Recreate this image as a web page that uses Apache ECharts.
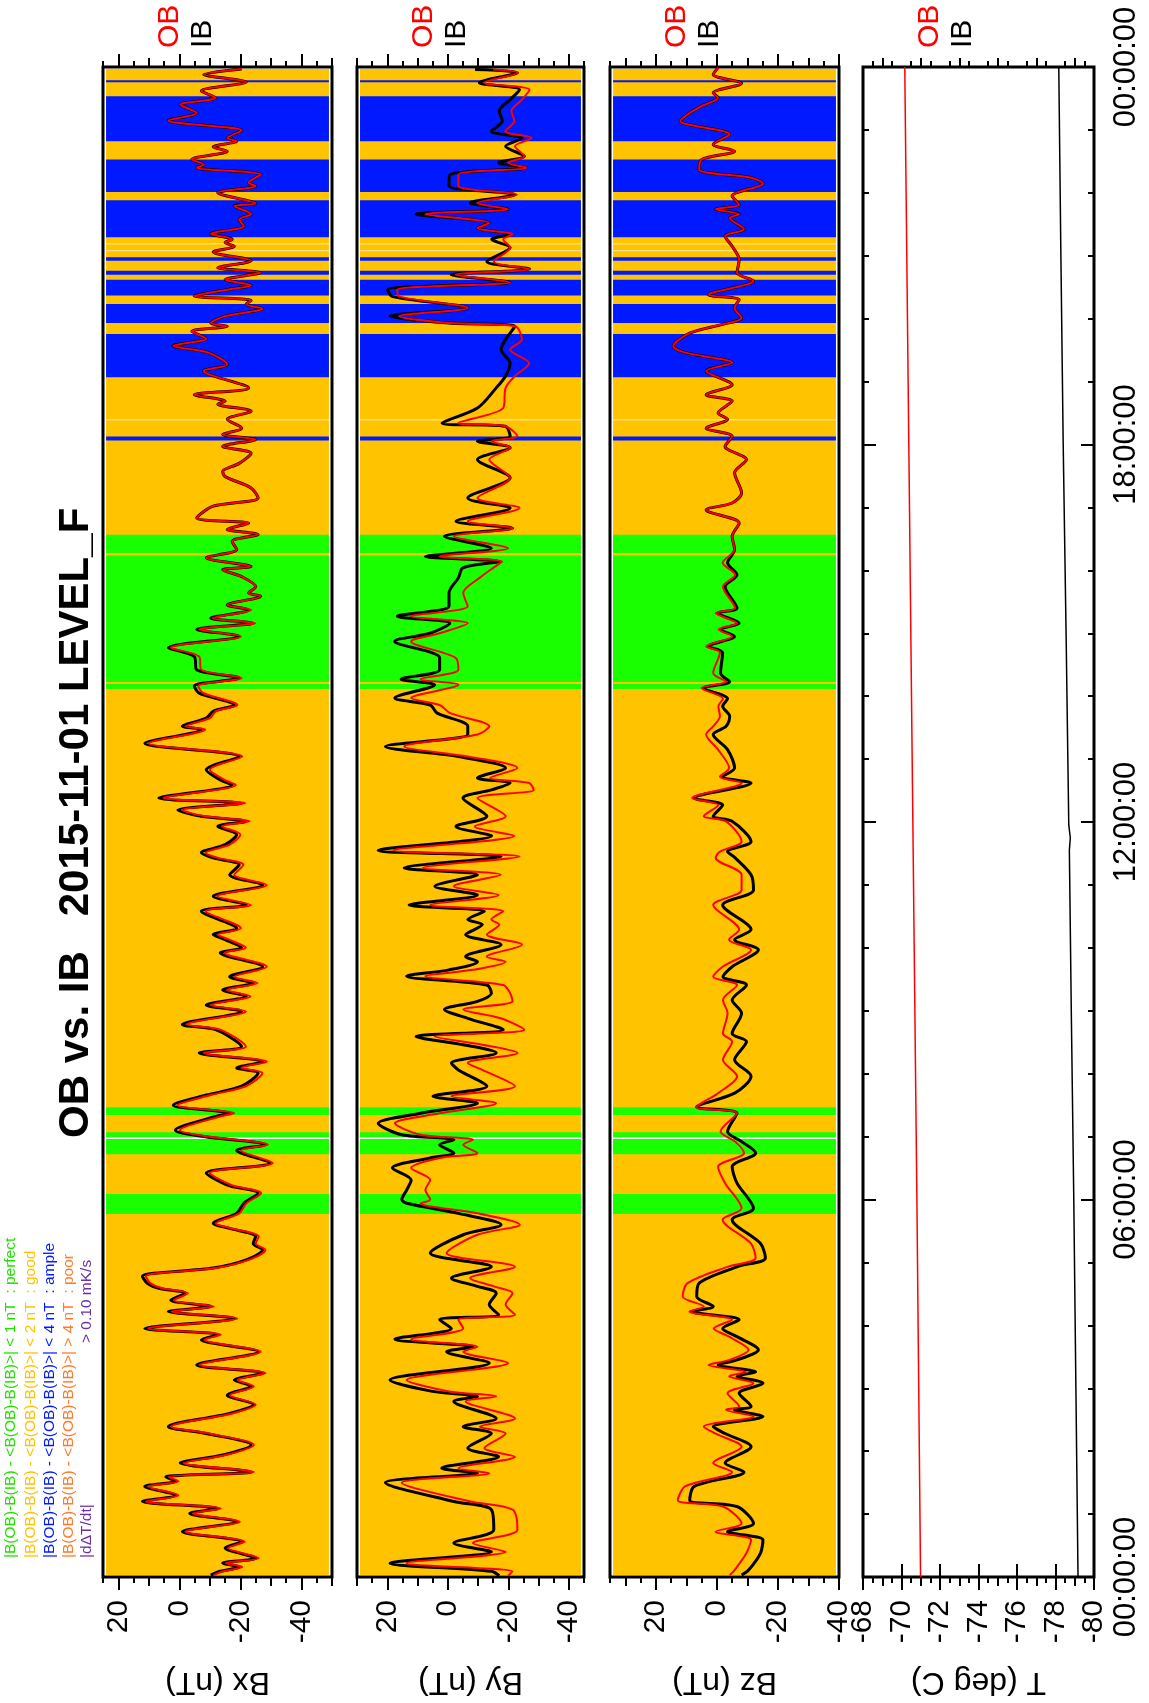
<!DOCTYPE html>
<html><head><meta charset="utf-8">
<script src="https://cdn.jsdelivr.net/npm/echarts@6/dist/echarts.min.js"></script>
<style>html,body{margin:0;padding:0;background:#fff}#c{width:1149px;height:1703px}</style>
</head><body><div id="c"></div>
<script>
// ---------------- DATA (hours of day, nT / deg C) ----------------
const bxHours = [23.97,23.88,23.76,23.62,23.51,23.40,23.27,23.15,22.99,22.87,
22.82,22.73,22.66,22.53,22.45,22.40,22.29,22.16,22.11,22.00,
21.83,21.79,21.66,21.58,21.47,21.35,21.26,21.21,21.15,21.06,
20.92,20.81,20.73,20.62,20.53,20.46,20.36,20.29,20.23,20.16,
20.04,19.93,19.88,19.80,19.68,19.57,19.46,19.27,19.17,18.90,
18.79,18.69,18.64,18.53,18.40,18.26,18.16,18.08,17.97,17.86,
17.70,17.57,17.49,17.31,17.15,17.02,16.83,16.75,16.65,16.57,
16.46,16.33,16.20,16.06,16.01,15.90,15.74,15.64,15.59,15.45,
15.37,15.24,15.16,15.06,14.95,14.77,14.63,14.42,14.29,14.16,
14.05,13.86,13.76,13.65,13.52,13.47,13.25,13.04,12.83,12.67,
12.59,12.38,12.30,12.19,12.09,12.01,11.93,11.80,11.64,11.51,
11.43,11.32,11.16,11.00,10.82,10.68,10.58,10.31,10.21,10.13,
10.00,9.92,9.70,9.54,9.44,9.33,9.23,9.09,8.99,8.78,
8.70,8.43,8.33,8.19,8.09,8.01,7.80,7.66,7.50,7.37,
7.32,7.10,7.00,6.87,6.78,6.58,6.42,6.23,6.10,5.94,
5.78,5.62,5.54,5.41,5.30,5.20,5.04,4.91,4.78,4.67,
4.59,4.51,4.40,4.30,4.22,4.11,3.95,3.85,3.77,3.58,
3.37,3.24,3.13,3.03,2.89,2.74,2.60,2.39,2.28,2.10,
1.94,1.81,1.67,1.59,1.52,1.44,1.30,1.20,1.09,1.01,
0.88,0.72,0.56,0.46,0.30,0.22,0.16,0.08,0.03];
const bxIB = [-20.4,-8.0,-21.9,-7.2,-11.9,-0.3,-5.7,3.6,-20.4,-15.7,
-18.8,-11.1,-15.7,-4.1,-8.0,-5.7,-26.6,-22.7,-25.0,-12.6,
-25.0,-18.0,-23.5,-19.6,-21.1,-10.3,-17.3,-15.0,-18.0,-11.1,
-23.5,-12.6,-26.6,-15.0,-23.5,-15.7,-4.9,-23.5,-21.9,-27.3,
-15.0,-10.3,-15.7,-4.1,-8.8,2.0,-9.5,-15.7,-8.0,-22.7,
-4.9,-15.0,-12.6,-23.5,-15.7,-20.4,-14.2,-25.0,-14.2,-23.5,
-19.6,-14.2,-15.0,-23.5,-25.8,-11.1,-5.7,-22.7,-15.7,-25.8,
-17.3,-18.8,-8.8,-23.5,-14.2,-20.4,-25.0,-22.7,-26.6,-15.7,
-22.7,-10.3,-24.2,-5.7,-19.6,3.6,-4.9,-5.7,-19.6,-4.9,
-6.5,-18.0,-11.1,-8.8,-1.0,-7.2,11.3,-19.6,-8.8,-13.4,
-17.3,6.7,-20.4,0.5,-7.2,-21.9,-12.6,-18.8,-15.0,-7.2,
-11.1,-19.6,-16.5,-27.3,-11.1,-21.9,-7.2,-18.8,-11.1,-15.0,
-20.4,-13.4,-27.3,-16.5,-24.2,-14.2,-21.9,-8.8,-20.4,-1.0,
-11.9,-20.4,-6.5,-27.3,-18.8,-25.8,-20.4,-8.8,2.0,-16.5,
-11.9,1.3,-8.0,-28.1,-18.8,-29.6,-8.8,-15.7,-25.8,-21.1,
-18.8,-11.1,-16.5,-25.0,-24.2,-27.3,-21.9,-11.1,12.1,10.5,
6.7,-1.8,2.8,-10.3,3.6,-18.0,11.3,-12.6,-7.2,-25.8,
-5.7,-27.3,-18.0,-23.5,-15.7,-24.2,-16.5,3.6,-8.8,-23.5,
-14.2,-0.3,-23.5,4.4,1.3,11.3,1.3,12.1,-12.6,-3.4,
-18.8,-1.0,-20.4,-15.0,-25.0,-14.2,-19.6,-12.6,-10.3];
const bxOB = [-20.4,-8.0,-21.9,-7.2,-11.9,-0.3,-5.7,3.6,-20.4,-15.7,
-18.8,-11.1,-15.7,-4.1,-8.0,-5.7,-26.6,-22.7,-25.0,-12.6,
-25.0,-18.0,-23.5,-19.6,-21.1,-10.3,-17.3,-15.0,-18.0,-11.1,
-23.5,-12.6,-26.6,-15.0,-23.5,-15.7,-4.9,-23.5,-21.9,-27.3,
-15.0,-10.3,-15.7,-4.1,-8.8,2.0,-9.5,-15.7,-8.0,-22.7,
-4.9,-15.0,-12.6,-23.5,-15.7,-20.4,-14.2,-25.0,-14.2,-23.5,
-19.6,-14.2,-15.0,-23.5,-25.8,-11.1,-5.7,-22.7,-15.7,-25.8,
-17.3,-18.8,-8.8,-23.5,-14.2,-20.4,-25.0,-22.7,-26.6,-15.7,
-23.5,-11.0,-24.8,-6.5,-20.2,2.8,-6.5,-7.2,-20.4,-6.2,
-7.8,-19.0,-12.0,-10.0,-2.0,-8.5,10.0,-20.6,-10.0,-14.8,
-18.5,5.2,-21.6,-0.8,-8.5,-23.0,-14.0,-20.0,-16.5,-8.6,
-12.6,-21.0,-18.0,-28.6,-12.5,-23.4,-8.6,-20.2,-12.6,-16.4,
-21.8,-14.8,-28.6,-18.0,-25.6,-15.6,-23.3,-10.2,-21.8,-2.5,
-13.4,-21.8,-8.0,-28.7,-20.3,-27.2,-21.8,-10.3,0.6,-18.0,
-13.4,-0.2,-9.5,-29.0,-20.2,-30.6,-10.0,-17.0,-26.8,-22.0,
-19.6,-12.0,-17.3,-26.0,-25.0,-28.2,-22.7,-12.0,11.0,9.5,
5.6,-2.8,1.8,-11.3,2.6,-19.0,10.2,-13.6,-8.2,-26.6,
-6.7,-28.2,-19.0,-24.4,-16.6,-25.0,-17.4,2.6,-9.8,-24.4,
-15.2,-1.3,-24.4,3.4,0.3,10.3,0.3,11.0,-13.6,-4.4,
-19.8,-2.0,-21.4,-16.0,-26.0,-15.2,-20.6,-13.6,-11.3];

const byHours = [23.96,23.91,23.75,23.64,23.48,23.30,23.14,22.98,22.87,22.74,
22.58,22.48,22.40,22.29,22.11,21.97,21.84,21.74,21.66,21.52,
21.44,21.34,21.26,21.13,20.91,20.79,20.70,20.58,20.46,20.35,
20.17,20.04,19.93,19.88,19.67,19.51,19.29,19.09,18.90,18.58,
18.34,18.29,18.13,18.05,17.95,17.76,17.47,17.15,16.99,16.78,
16.67,16.54,16.35,16.22,16.14,16.04,15.88,15.64,15.43,15.27,
15.16,15.00,14.87,14.61,14.42,14.27,14.18,13.97,13.86,13.73,
13.52,13.39,13.20,13.04,12.86,12.70,12.62,12.51,12.38,12.09,
11.93,11.78,11.55,11.45,11.27,11.16,10.98,10.84,10.68,10.58,
10.45,10.37,10.21,10.05,9.86,9.78,9.65,9.55,9.41,9.28,
9.15,9.02,8.88,8.70,8.59,8.46,8.33,8.17,8.06,7.80,
7.64,7.53,7.37,7.21,7.03,6.95,6.87,6.74,6.66,6.50,
6.31,6.15,6.00,5.94,5.78,5.60,5.44,5.15,4.93,4.75,
4.62,4.51,4.33,4.17,4.09,3.95,3.78,3.66,3.58,3.40,
3.13,2.95,2.87,2.79,2.52,2.39,2.28,2.05,1.91,1.73,
1.65,1.50,1.20,1.07,0.75,0.54,0.40,0.22,0.09,0.02];
const byIB = [-9.0,-23.0,-10.4,-23.7,-20.6,-17.0,-18.0,-14.4,-24.5,-19.1,
-25.3,-16.8,-26.0,-0.7,-0.4,-22.2,-7.4,-19.9,10.5,-13.7,
-9.8,-20.6,-14.5,-20.6,-12.9,-27.0,-1.1,-20.6,19.9,18.3,
-6.6,19.1,-0.4,-22.2,-19.1,-17.6,-20.6,-19.1,-16.0,-9.8,
1.9,-19.0,-20.6,-9.8,-20.6,-9.8,-20.6,-6.6,-20.6,-2.7,
-21.4,1.1,-14.4,7.4,-17.0,-5.0,-3.5,-0.4,-0.4,16.7,
-0.7,5.8,17.5,2.7,2.7,15.4,4.3,17.5,5.8,3.5,
-6.6,-6.6,20.6,-3.5,-19.1,-9.8,-20.6,-14.4,-5.0,-12.9,
-2.7,-14.5,23.0,-17.6,14.4,-9.8,4.3,-9.8,12.8,-12.1,
-6.6,-11.4,-5.9,-17.6,-5.9,-9.8,-0.4,13.6,-12.9,-14.4,
-9.8,1.1,-6.6,-18.3,10.5,-5.1,-16.0,-1.2,-3.5,-12.9,
4.9,-9.8,9.0,23.0,15.2,-2.0,2.7,-2.0,5.8,18.3,
12.1,13.6,15.2,13.6,-3.5,-17.6,-5.1,5.8,-14.4,-1.2,
-9.8,-16.0,-13.7,-16.8,2.7,-1.2,17.5,-8.3,0.4,-13.7,
19.1,5.1,-9.8,-2.0,-16.0,-5.1,-14.4,-6.6,-16.8,2.0,
-9.8,20.6,-2.0,-14.4,-15.2,-2.0,-14.4,19.1,-14.4,-17.0];
const byOB = [-15.0,-23.0,-12.0,-27.0,-24.5,-21.0,-22.0,-19.0,-27.7,-22.2,
-25.3,-19.9,-26.0,-3.5,-3.5,-22.8,-9.8,-19.9,7.4,-13.7,
-9.8,-21.4,-18.3,-20.6,-15.2,-27.0,-2.6,-20.6,16.7,16.0,
-6.6,16.0,-0.4,-22.2,-24.5,-20.6,-26.9,-22.2,-19.1,-18.3,
-3.5,-19.0,-23.0,-14.4,-20.6,-13.7,-20.6,-9.8,-23.7,-6.6,
-21.4,-2.0,-19.9,2.7,-18.0,-15.0,-10.5,-5.1,-6.6,12.1,
-6.6,2.7,12.1,-2.6,-3.5,9.0,-3.5,12.1,2.7,-0.8,
-13.7,-9.8,14.4,-6.6,-23.0,-14.0,-26.9,-28.4,-9.8,-19.1,
-8.9,-22.0,18.0,-23.7,8.2,-17.5,-2.0,-16.8,5.8,-18.3,
-14.4,-17.0,-12.9,-24.5,-12.9,-19.1,-8.3,7.4,-18.3,-20.6,
-21.4,-5.1,-17.5,-25.3,4.3,-11.4,-23.0,-6.6,-11.4,-22.2,
-1.2,-16.0,2.7,17.5,9.0,-8.3,-5.1,-9.8,2.7,12.1,
5.8,7.4,5.8,9.0,-9.8,-23.8,-9.8,0.4,-22.2,-7.4,
-15.2,-21.4,-19.1,-22.2,-3.5,-5.1,12.1,-9.8,-5.1,-19.9,
13.6,-0.4,-16.0,-5.9,-22.2,-10.6,-19.1,-12.1,-22.2,-3.5,
-13.7,15.2,-7.4,-21.4,-23.0,-8.3,-19.1,13.6,-21.4,-20.0];

const bzHours = [23.99,23.88,23.74,23.59,23.51,23.38,23.27,23.14,22.93,22.77,
22.66,22.53,22.37,22.24,22.15,21.95,21.81,21.74,21.66,21.60,
21.42,21.31,21.15,20.94,20.73,20.60,20.38,20.30,20.17,20.01,
19.91,19.77,19.56,19.46,19.30,19.17,18.95,18.79,18.69,18.50,
18.40,18.26,18.13,17.97,17.76,17.55,17.23,17.07,16.96,16.75,
16.54,16.33,16.12,15.93,15.74,15.40,15.32,15.16,15.06,14.95,
14.79,14.69,14.37,14.23,14.13,13.96,13.84,13.68,13.52,13.39,
13.15,12.86,12.72,12.62,12.38,12.27,12.09,12.01,11.69,11.53,
11.43,11.16,10.92,10.68,10.29,10.13,9.97,9.70,9.54,9.41,
9.17,8.96,8.64,8.51,8.22,7.96,7.69,7.47,7.37,7.08,
6.92,6.74,6.52,6.26,5.86,5.68,5.30,5.07,4.93,4.67,
4.46,4.30,4.22,4.09,3.95,3.82,3.61,3.45,3.37,3.26,
3.19,3.08,2.92,2.71,2.66,2.55,2.39,2.28,2.07,1.81,
1.67,1.44,1.22,1.12,0.85,0.72,0.59,0.38,0.11,0.03];
const bzIB = [-0.4,1.2,-8.1,1.2,-0.4,5.0,8.9,12.0,-4.2,1.2,
-5.8,5.0,5.8,-11.2,-15.1,-5.0,-7.3,0.4,-7.3,-4.2,
-8.9,-2.7,-5.0,-7.3,-6.6,-12.0,2.7,-7.3,-5.8,-8.1,
-1.9,8.9,14.3,10.4,-5.0,3.5,-5.0,3.5,-5.0,-0.4,
-3.5,3.5,-5.0,-2.7,-9.7,-5.8,-8.1,-5.0,3.5,-7.3,
-5.0,-5.8,-3.5,-6.6,-2.7,-6.6,-0.4,-7.3,-1.2,-5.8,
2.7,-1.9,-1.2,-4.2,4.3,-3.5,-1.9,-4.2,-3.0,1.2,
-3.5,-5.8,-1.9,-11.2,7.4,-1.9,1.2,-5.0,-11.2,-3.5,
-6.0,-11.2,-12.0,-1.9,-11.2,-5.8,-13.6,-5.0,-2.0,-9.7,
-5.0,-8.1,-5.0,-9.7,-5.8,-11.2,-5.8,6.6,-6.6,-3.5,
-8.1,-12.7,-5.0,-6.6,-12.0,-5.0,-14.3,-15.9,-6.6,5.8,
6.6,1.2,8.1,-7.3,-1.9,-6.6,-13.6,-6.6,-0.4,-12.7,
-6.6,-15.1,-7.3,-11.2,-5.8,-15.1,1.2,-2.7,-11.2,-2.7,
-8.9,7.4,8.9,-6.6,-12.0,-3.5,-15.1,-14.3,-10.4,-8.1];
const bzOB = [-0.4,1.2,-8.1,1.2,-0.4,5.0,8.9,12.0,-4.2,1.2,
-5.8,5.0,5.8,-11.2,-15.1,-5.0,-7.3,0.4,-7.3,-4.2,
-8.9,-2.7,-5.0,-7.3,-6.6,-12.0,2.7,-7.3,-5.8,-8.1,
-1.9,8.9,14.3,10.4,-5.0,3.5,-5.0,3.5,-5.0,-0.4,
-3.5,3.5,-5.0,-2.7,-9.7,-5.8,-8.1,-5.0,3.5,-7.3,
-5.0,-5.8,-1.9,-6.0,-2.0,-6.0,0.4,-6.6,-0.5,-5.0,
3.5,-1.0,1.2,-3.0,5.0,-2.0,-0.5,-1.0,1.2,3.5,
-0.4,-4.0,-1.0,-8.1,8.1,-0.5,4.3,-3.0,-8.1,-1.0,
0.4,-8.1,-8.1,1.2,-7.3,-4.0,-11.2,-1.9,1.2,-6.6,
-2.0,-3.5,-2.0,-5.0,-2.0,-6.6,-0.4,6.6,-6.6,-1.2,
-6.0,-8.9,-0.4,-2.7,-8.1,-1.9,-11.2,-12.7,-3.5,9.6,
11.2,4.3,9.0,-5.0,1.0,-4.0,-10.4,-4.2,2.7,-9.5,
-4.0,-12.0,-3.5,-7.3,-3.0,-12.0,4.3,0.4,-8.1,1.2,
-5.0,10.4,12.8,-2.0,-8.1,0.4,-11.2,-9.7,-5.8,-4.2];

const tHoursIB = [0,3,6,9,11.55,11.75,11.95,15,18,21,24];
const tIB = [-79.17,-79.06,-78.95,-78.82,-78.72,-78.77,-78.69,-78.55,-78.40,-78.28,-78.17];
const tHoursOB = [0,6,12,18,24];
const tOB = [-70.99,-70.80,-70.59,-70.38,-70.17];

// quality bands (hours)
const blueBands = [[23.757,23.789],[22.819,23.534],[22.014,22.528],[21.293,21.881],[20.922,20.975],[20.700,20.763],[20.370,20.620],[19.932,20.235],[19.067,19.757],[18.065,18.129]];
const greenBands = [[16.275,16.566],[14.224,16.237],[14.113,14.192],[7.345,7.467],[6.984,7.070],[6.720,6.963],[5.771,6.089]];
const whiteBands = [[6.963,6.984]];
const paleBands = [[21.18,21.20],[21.07,21.09],[18.38,18.40]];

// tick labels
const bTickLabels = [20, 0, -20, -40];
const tTickLabels = [-68, -70, -72, -74, -76, -78, -80];
const timeLabelHours = [0, 6, 12, 18, 24];
const componentNames = ['Bx (nT)', 'By (nT)', 'Bz (nT)', 'T (deg C)'];
const legendLines = [
  '|B(OB)-B(IB) - <B(OB)-B(IB)>| < 1 nT  : perfect',
  '|B(OB)-B(IB) - <B(OB)-B(IB)>| < 2 nT  : good',
  '|B(OB)-B(IB) - <B(OB)-B(IB)>| < 4 nT  : ample',
  '|B(OB)-B(IB) - <B(OB)-B(IB)>| > 4 nT  : poor'
];
const titleText = 'OB vs. IB   2015-11-01 LEVEL_F';

// ---------------- LAYOUT / STYLE ----------------
const FONT = "'Liberation Sans', Arial, Helvetica, sans-serif";
const TOP = 67, HEIGHT = 1510;
const BAND_COLORS = ['#FFC300', '#0019FF', '#1AFF00', '#FFFFFF', '#FFE38A'];
const LEGEND_COLORS = ['#22E000', '#FFC300', '#0019FF', '#FF7A2A', '#6B2FA8'];
const panels = [
  {left:103, width:229, min:-50, max:25, h1:bxHours, ib:bxIB, h2:bxHours, ob:bxOB, bands:true},
  {left:357, width:227, min:-45, max:30, h1:byHours, ib:byIB, h2:byHours, ob:byOB, bands:true},
  {left:610, width:229, min:-40, max:35, h1:bzHours, ib:bzIB, h2:bzHours, ob:bzOB, bands:true},
  {left:863, width:231, min:-80, max:-68, h1:tHoursIB, ib:tIB, h2:tHoursOB, ob:tOB, bands:false}
];

const bandData = [[0.03, 23.97, 0]];
paleBands.forEach(b => bandData.push([b[0], b[1], 4]));
blueBands.forEach(b => bandData.push([b[0], b[1], 1]));
greenBands.forEach(b => bandData.push([b[0], b[1], 2]));
whiteBands.forEach(b => bandData.push([b[0], b[1], 3]));

const hourTicks = [];
for (let h = 0; h <= 24; h++) hourTicks.push(h);

const grid = [], xAxis = [], yAxis = [], series = [], graphic = [];

panels.forEach((p, i) => {
  const isT = i === 3;
  grid.push({left:p.left, top:TOP, width:p.width, height:HEIGHT, show:true,
    borderColor:'#000', borderWidth:3, backgroundColor:'rgba(0,0,0,0)'});
  const step = isT ? 0.5 : 5, majorStep = isT ? 2 : 20, midStep = isT ? 1 : 10;
  const majors = [], mids = [], minors = [];
  const n = Math.round((p.max - p.min) / step);
  for (let k = 0; k <= n; k++) {
    const v = Math.round((p.min + k * step) * 100) / 100;
    if (Math.abs(v % majorStep) < 1e-9) majors.push(v);
    else if (Math.abs(v % midStep) < 1e-9) mids.push(v);
    else minors.push(v);
  }
  const baseX = xAxis.length;
  ['bottom', 'top'].forEach(pos => {
    [[majors, 13], [mids, 9], [minors, 6]].forEach(([vals, len], k) => {
      xAxis.push({
        gridIndex:i, type:'value', position:pos, min:p.min, max:p.max, inverse:true,
        axisLine:{show:false}, splitLine:{show:false},
        axisTick:{show:true, inside:false, length:len, customValues:vals, lineStyle:{color:'#000', width:2}},
        axisLabel:(pos === 'bottom' && k === 0) ? {
          show:true, customValues: isT ? tTickLabels : bTickLabels, rotate:90, margin:23,
          fontSize:30, fontFamily:FONT, color:'#000', align:'right', verticalAlign:'middle'
        } : {show:false}
      });
    });
  });
  const baseY = yAxis.length;
  ['left', 'right'].forEach(pos => {
    yAxis.push({
      gridIndex:i, type:'value', position:pos, min:0, max:24,
      axisLine:{show:false}, splitLine:{show:false},
      axisTick:{show:true, inside:true, length:6, customValues:hourTicks, lineStyle:{color:'#000', width:2}},
      axisLabel:(isT && pos === 'right') ? {
        show:true, customValues:timeLabelHours, rotate:90, margin:17, fontSize:31, fontFamily:FONT,
        color:'#000', align:'center', verticalAlign:'top',
        formatter: v => String(Math.round(v) % 24).padStart(2, '0') + ':00:00'
      } : {show:false}
    });
    if (isT) {
      yAxis.push({
        gridIndex:i, type:'value', position:pos, min:0, max:24,
        axisLine:{show:false}, splitLine:{show:false}, axisLabel:{show:false},
        axisTick:{show:true, inside:true, length:13, customValues:timeLabelHours, lineStyle:{color:'#000', width:2}}
      });
    }
  });

  if (p.bands) {
    series.push({
      type:'custom', xAxisIndex:baseX, yAxisIndex:baseY, silent:true, z:1,
      data: bandData,
      renderItem: (params, api) => {
        const t1 = api.value(0), t2 = api.value(1), c = api.value(2);
        const a = api.coord([p.max - 1, t2]);
        const b = api.coord([p.min + 1, t1]);
        return {type:'rect', shape:{x:a[0], y:a[1], width:b[0] - a[0], height:Math.max(1, b[1] - a[1])},
          style:{fill:BAND_COLORS[c]}};
      }
    });
  }
  series.push({
    type:'line', xAxisIndex:baseX, yAxisIndex:baseY, z:3, symbol:'none', silent:true,
    smooth: isT ? false : 0.3,
    data: p.h1.map((h, k) => [p.ib[k], h]),
    lineStyle:{color:'#000', width: isT ? 1.5 : 3}
  });
  series.push({
    type:'line', xAxisIndex:baseX, yAxisIndex:baseY, z:4, symbol:'none', silent:true,
    smooth: isT ? false : 0.3,
    data: p.h2.map((h, k) => [p.ob[k], h]),
    lineStyle:{color:'#FF0000', width: isT ? 1.5 : 2}
  });

  // OB / IB labels above each panel
  graphic.push({type:'text', x:p.left + 67, y:48, rotation:Math.PI / 2,
    style:{text:'OB', fill:'#FF0000', fontSize:30, fontFamily:FONT, align:'left', verticalAlign:'middle', textAlign:'left', textVerticalAlign:'middle'}});
  graphic.push({type:'text', x:p.left + 100, y:48, rotation:Math.PI / 2,
    style:{text:'IB', fill:'#000', fontSize:30, fontFamily:FONT, align:'left', verticalAlign:'middle', textAlign:'left', textVerticalAlign:'middle'}});
  // axis title (upside down)
  graphic.push({type:'text', x:p.left + p.width / 2, y:1682, rotation:Math.PI,
    style:{text:componentNames[i], fill:'#000', fontSize:32, fontFamily:FONT, align:'center', verticalAlign:'middle', textAlign:'center', textVerticalAlign:'middle'}});
});

// title
graphic.push({type:'text', x:76, y:1138, rotation:Math.PI / 2,
  style:{text:titleText, fill:'#000', fontSize:42, fontWeight:'bold', fontFamily:FONT, align:'left', verticalAlign:'middle', textAlign:'left', textVerticalAlign:'middle'}});
// legend
const legendX = [11, 31, 50, 69];
legendLines.forEach((t, k) => {
  graphic.push({type:'text', x:legendX[k], y:1558, rotation:Math.PI / 2,
    style:{text:t, fill:LEGEND_COLORS[k], fontSize:15.5, fontFamily:FONT, align:'left', verticalAlign:'middle', textAlign:'left', textVerticalAlign:'middle'}});
});
graphic.push({type:'text', x:87, y:1558, rotation:Math.PI / 2,
  style:{text:'|d\u0394T/dt|', fill:LEGEND_COLORS[4], fontSize:15.5, fontFamily:FONT, align:'left', verticalAlign:'middle', textAlign:'left', textVerticalAlign:'middle'}});
graphic.push({type:'text', x:87, y:1343, rotation:Math.PI / 2,
  style:{text:'> 0.10 mK/s', fill:LEGEND_COLORS[4], fontSize:15.5, fontFamily:FONT, align:'left', verticalAlign:'middle', textAlign:'left', textVerticalAlign:'middle'}});

const chart = echarts.init(document.getElementById('c'), null, {renderer:'canvas', width:1149, height:1703});
chart.setOption({
  animation:false,
  backgroundColor:'#fff',
  grid, xAxis, yAxis, series, graphic
});
</script></body></html>
